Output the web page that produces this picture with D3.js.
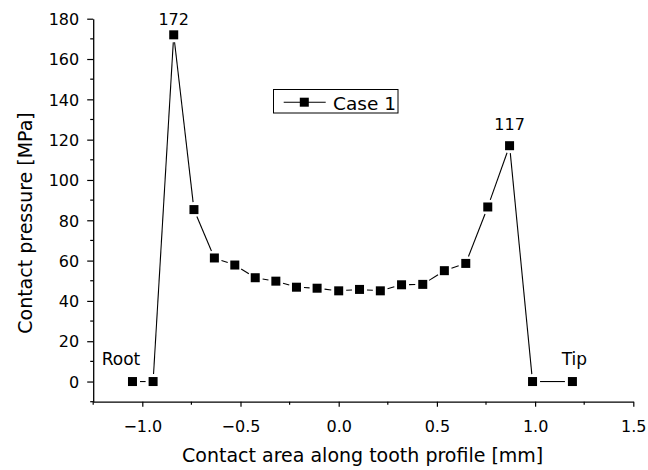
<!DOCTYPE html>
<html>
<head>
<meta charset="utf-8">
<script src="https://cdn.jsdelivr.net/npm/d3@7"></script>
<style>
  html, body { margin: 0; padding: 0; background: #fff; }
  svg { display: block; font-family: "DejaVu Sans", sans-serif; }
</style>
</head>
<body>
<svg id="chart" width="648" height="470"></svg>
<script>
// Contact pressure distribution along the tooth profile (Case 1)
const positions = [-1.05, -0.945, -0.84, -0.737, -0.633, -0.529, -0.425, -0.32, -0.215, -0.11,
                   0.0, 0.106, 0.212, 0.32, 0.428, 0.538, 0.647, 0.759, 0.87, 0.987, 1.19];
const pressures = [0, 0, 172, 85.3, 61.3, 57.8, 51.5, 49.8, 46.8, 46.3,
                   45.0, 45.7, 45.0, 48.0, 48.2, 55.0, 58.6, 86.6, 117, 0, 0];
const seriesName = "Case 1";
const xMajorTicks = [-1.0, -0.5, 0.0, 0.5, 1.0, 1.5];
const xMinorTicks = [-1.25, -0.75, -0.25, 0.25, 0.75, 1.25];
const yMajorTicks = [0, 20, 40, 60, 80, 100, 120, 140, 160, 180];
const yMinorTicks = [-10, 10, 30, 50, 70, 90, 110, 130, 150, 170];
const peakIndices = [2, 18];          // peaks labelled with their values
const endLabels = ["Root", "Tip"];

const svg = d3.select("#chart");
const x = d3.scaleLinear().domain([-1.25, 1.5]).range([93.2, 633.3]);
const y = d3.scaleLinear().domain([-10, 180]).range([401.7, 18.7]);

const fmtX = d3.format(".1f");

// ---- axes ----
const xAxis = svg.append("g").attr("transform", `translate(0,${y(-10)})`);
xAxis.call(d3.axisBottom(x).tickValues(xMajorTicks).tickSize(5).tickSizeOuter(0).tickFormat(fmtX))
  .call(g => g.select(".domain").attr("stroke-width", 1.3))
  .call(g => g.selectAll(".tick line").attr("stroke-width", 1.2))
  .call(g => g.selectAll(".tick text").attr("font-size", 16).attr("font-family", "DejaVu Sans")
        .attr("fill", "#000").attr("dy", null).attr("y", 30));
xAxis.append("g").selectAll("line").data(xMinorTicks).join("line")
  .attr("x1", d => x(d)).attr("x2", d => x(d)).attr("y1", 0).attr("y2", 3)
  .attr("stroke", "#000").attr("stroke-width", 1.2);

const yAxis = svg.append("g").attr("transform", `translate(${x(-1.25)},0)`);
yAxis.call(d3.axisLeft(y).tickValues(yMajorTicks).tickSize(6).tickSizeOuter(0).tickFormat(d3.format("d")))
  .call(g => g.select(".domain").attr("stroke-width", 1.3))
  .call(g => g.selectAll(".tick line").attr("stroke-width", 1.2))
  .call(g => g.selectAll(".tick text").attr("font-size", 16).attr("font-family", "DejaVu Sans")
        .attr("fill", "#000").attr("x", -14).attr("dy", "0.36em"));
yAxis.append("g").selectAll("line").data(yMinorTicks).join("line")
  .attr("x1", -3).attr("x2", 0).attr("y1", d => y(d)).attr("y2", d => y(d))
  .attr("stroke", "#000").attr("stroke-width", 1.2);

// ---- axis titles ----
svg.append("text").attr("x", 362.7).attr("y", 461.5).attr("text-anchor", "middle")
  .attr("font-size", 19).text("Contact area along tooth profile [mm]");
svg.append("text").attr("transform", "translate(32,223) rotate(-90)").attr("text-anchor", "middle")
  .attr("font-size", 19).text("Contact pressure [MPa]");

// ---- series: line segments leave a small gap around each marker ----
const pts = positions.map((p, i) => ({ px: x(p), py: y(pressures[i]) }));
const gap = 7.5;
const segs = [];
for (let i = 0; i < pts.length - 1; i++) {
  const a = pts[i], b = pts[i + 1];
  const dx = b.px - a.px, dy = b.py - a.py, len = Math.hypot(dx, dy);
  if (len <= 2 * gap) continue;
  const ux = dx / len, uy = dy / len;
  segs.push({ x1: a.px + ux * gap, y1: a.py + uy * gap, x2: b.px - ux * gap, y2: b.py - uy * gap });
}
svg.append("g").selectAll("line").data(segs).join("line")
  .attr("x1", d => d.x1).attr("y1", d => d.y1).attr("x2", d => d.x2).attr("y2", d => d.y2)
  .attr("stroke", "#000").attr("stroke-width", 1.1);

const mk = 9;
svg.append("g").selectAll("rect").data(pts).join("rect")
  .attr("x", d => d.px - mk / 2).attr("y", d => d.py - mk / 2)
  .attr("width", mk).attr("height", mk).attr("fill", "#000");

// ---- peak value labels ----
const peakOffsets = [10, 16];
svg.append("g").selectAll("text").data(peakIndices).join("text")
  .attr("x", i => x(positions[i])).attr("y", (i, k) => y(pressures[i]) - peakOffsets[k])
  .attr("text-anchor", "middle").attr("font-size", 16)
  .text(i => d3.format("d")(pressures[i]));

// ---- end labels ----
svg.append("text").attr("x", 101.7).attr("y", 365).attr("font-size", 17).text(endLabels[0]);
svg.append("text").attr("x", 561.7).attr("y", 365).attr("font-size", 17).text(endLabels[1]);

// ---- legend ----
const lg = svg.append("g");
lg.append("rect").attr("x", 273.5).attr("y", 89.5).attr("width", 124.5).attr("height", 23.5)
  .attr("fill", "#fff").attr("stroke", "#000").attr("stroke-width", 1);
lg.append("line").attr("x1", 283.7).attr("x2", 325.7).attr("y1", 102.2).attr("y2", 102.2)
  .attr("stroke", "#000").attr("stroke-width", 1.1);
lg.append("rect").attr("x", 304.3 - mk / 2).attr("y", 102.2 - mk / 2).attr("width", mk).attr("height", mk)
  .attr("fill", "#000");
lg.append("text").attr("x", 333).attr("y", 110).attr("font-size", 18.5).text(seriesName);
</script>
</body>
</html>
